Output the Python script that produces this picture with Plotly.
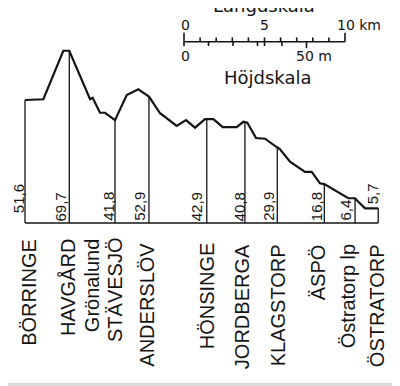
import plotly.graph_objects as go

# ---------------- data ----------------
station_names = ["BÖRRINGE", "HAVGÅRD", "STÄVESJÖ", "ANDERSLÖV", "HÖNSINGE",
                 "JORDBERGA", "KLAGSTORP", "ÄSPÖ", "Östratorp lp", "ÖSTRATORP"]
station_km = [0.0, 2.75, 5.59, 7.70, 11.29, 13.66, 15.67, 18.59, 20.50, 21.94]
station_elev_text = ["51,6", "69,7", "41,8", "52,9", "42,9",
                     "40,8", "29,9", "16,8", "6,4", "5,7"]

halt_names = ["Grönalund"]
halt_km = [4.14]

# track profile (distance km, elevation m)
profile_km = [0.0, 1.14, 2.38, 2.75, 4.04, 4.20, 4.66, 4.97, 5.59, 6.32, 7.04,
              7.56, 7.70, 8.39, 9.42, 10.0, 10.56, 11.18, 11.29, 11.70, 12.28,
              13.15, 13.56, 13.66, 13.81, 14.35, 14.91, 15.63, 15.67, 15.84,
              16.46, 17.39, 17.81, 18.32, 18.59, 20.08, 20.50, 20.70, 21.12,
              21.84, 21.94]
profile_m = [50.2, 50.5, 70.3, 70.3, 50.5, 51.1, 45.0, 45.0, 42.0, 52.2, 54.6,
             52.2, 51.6, 44.8, 39.6, 42.0, 38.9, 42.4, 42.4, 42.4, 39.1,
             39.1, 41.3, 41.2, 40.9, 34.7, 34.4, 31.0, 30.9, 30.1,
             25.0, 20.9, 20.9, 16.2, 15.9, 10.1, 10.1, 8.7, 6.0,
             6.0, 6.0]

scale_km_ticks = list(range(0, 11))          # Längdskala 0..10 km
scale_m_ticks = [10, 20, 30, 40, 50]          # Höjdskala 0..50 m

# ---------------- layout constants (pixels, reference frame) ----------------
OFF = 8                      # page body margin
W, H = 400 - OFF, 386 - OFF  # figure fills the visible window
PX_PER_KM = 16.1
PX_PER_M = 2.45
X0_PX = 25.0 - OFF
BASE_PX = 223.0 - OFF

x_range = [(0 - X0_PX) / PX_PER_KM, (W - X0_PX) / PX_PER_KM]
y_range = [(BASE_PX - H) / PX_PER_M, BASE_PX / PX_PER_M]

def px_to_km(px):   # px in reference frame
    return (px - OFF - X0_PX) / PX_PER_KM

def py_to_m(py):
    return (BASE_PX - (py - OFF)) / PX_PER_M

def paper_x(px):
    return (px - OFF) / W

def paper_y(py):
    return 1 - (py - OFF) / H

INK = "#141414"
fig = go.Figure()

# baseline
fig.add_trace(go.Scatter(x=[station_km[0], station_km[-1]], y=[0, 0], mode="lines",
                         line=dict(color=INK, width=1.6), hoverinfo="skip"))

# station verticals
prof = dict(zip(profile_km, profile_m))
vx, vy = [], []
for k in station_km:
    vx += [k, k, None]
    vy += [0, prof[k], None]
fig.add_trace(go.Scatter(x=vx, y=vy, mode="lines",
                         line=dict(color=INK, width=1.3), hoverinfo="skip"))

# profile
fig.add_trace(go.Scatter(x=profile_km, y=profile_m, mode="lines",
                         line=dict(color=INK, width=2.2), hoverinfo="skip"))

# ---- scale bar ----
sx0 = px_to_km(184.0)
sy = py_to_m(41.7)
d4 = 4.3 / PX_PER_M
sx, sy_ = [sx0, sx0 + scale_km_ticks[-1], None], [sy, sy, None]
for t in scale_km_ticks:
    x = sx0 + t
    if t == 0:
        top, bot = sy + 9 / PX_PER_M, sy - 4.5 / PX_PER_M
    elif t == scale_km_ticks[-1]:
        top, bot = sy + 9 / PX_PER_M, sy
    elif t == 5:
        top, bot = sy + d4, sy - d4
    else:
        top, bot = sy + d4, sy
    sx += [x, x, None]
    sy_ += [bot, top, None]
for m in scale_m_ticks:
    x = sx0 + m * PX_PER_M / PX_PER_KM
    ln = 6.5 if m == 50 else 4.3
    sx += [x, x, None]
    sy_ += [sy, sy - ln / PX_PER_M, None]
fig.add_trace(go.Scatter(x=sx, y=sy_, mode="lines",
                         line=dict(color=INK, width=1.6), hoverinfo="skip"))

ann = []
def ptext(text, px, py, size, xanchor="center", yanchor="middle", family="DejaVu Sans"):
    ann.append(dict(text=text, x=paper_x(px), y=paper_y(py), xref="paper", yref="paper",
                    xanchor=xanchor, yanchor=yanchor, showarrow=False, borderpad=0,
                    font=dict(family=family, size=size, color=INK)))

ptext("Längdskala", 264, 5.5, 18)
ptext("0", 185, 25.3, 14)
ptext("5", 264.5, 25.3, 14)
ptext("10 km", 336, 25.3, 14, xanchor="left")
ptext("0", 185, 55.8, 14)
ptext("50 m", 314, 55.8, 14)
ptext("Höjdskala", 268, 78, 18)

# station names (rotated)
name_dx = [3.3, -1.7, 0, -2.3, 0, -3.3, 1, -6, -6.7, -1.6]
name_top = [238, 238, 237, 242, 241, 243, 243, 243, 243, 243]
for name, k, dx, top in zip(station_names, station_km, name_dx, name_top):
    ann.append(dict(text=name, x=k, xref="x", xshift=dx, y=paper_y(top), yref="paper",
                    xanchor="center", yanchor="top", textangle=-90, showarrow=False,
                    borderpad=0, font=dict(family="Liberation Sans", size=20, color=INK)))
for name, k in zip(halt_names, halt_km):
    ann.append(dict(text=name, x=k, xref="x", y=paper_y(238), yref="paper",
                    xanchor="center", yanchor="top", textangle=-90, showarrow=False,
                    borderpad=0, font=dict(family="Liberation Sans", size=20, color=INK)))

# elevation numbers (rotated)
num_dx = [-6.3, -8.3, -6.7, -9.7, -10, -5, -9, -7.6, -10, -5]
num_bottom = [214, 222, 222, 222, 222, 222, 222, 222, 222, 205.5]
for t, k, dx, b in zip(station_elev_text, station_km, num_dx, num_bottom):
    ann.append(dict(text=t, x=k, xref="x", xshift=dx, y=paper_y(b), yref="paper",
                    xanchor="center", yanchor="bottom", textangle=-90, showarrow=False,
                    borderpad=0, font=dict(family="Liberation Sans", size=15, color=INK)))

fig.update_layout(
    width=W, height=H, margin=dict(l=0, r=0, t=0, b=0),
    paper_bgcolor="white", plot_bgcolor="white", showlegend=False,
    xaxis=dict(range=x_range, visible=False, fixedrange=True),
    yaxis=dict(range=y_range, visible=False, fixedrange=True),
    annotations=ann,
    shapes=[dict(type="rect", xref="paper", yref="paper", x0=0, x1=1,
                 y0=0, y1=3 / H, fillcolor="#dcdcdc", line=dict(width=0), layer="below")],
)
fig.write_html("out.html", config={"displayModeBar": False})
